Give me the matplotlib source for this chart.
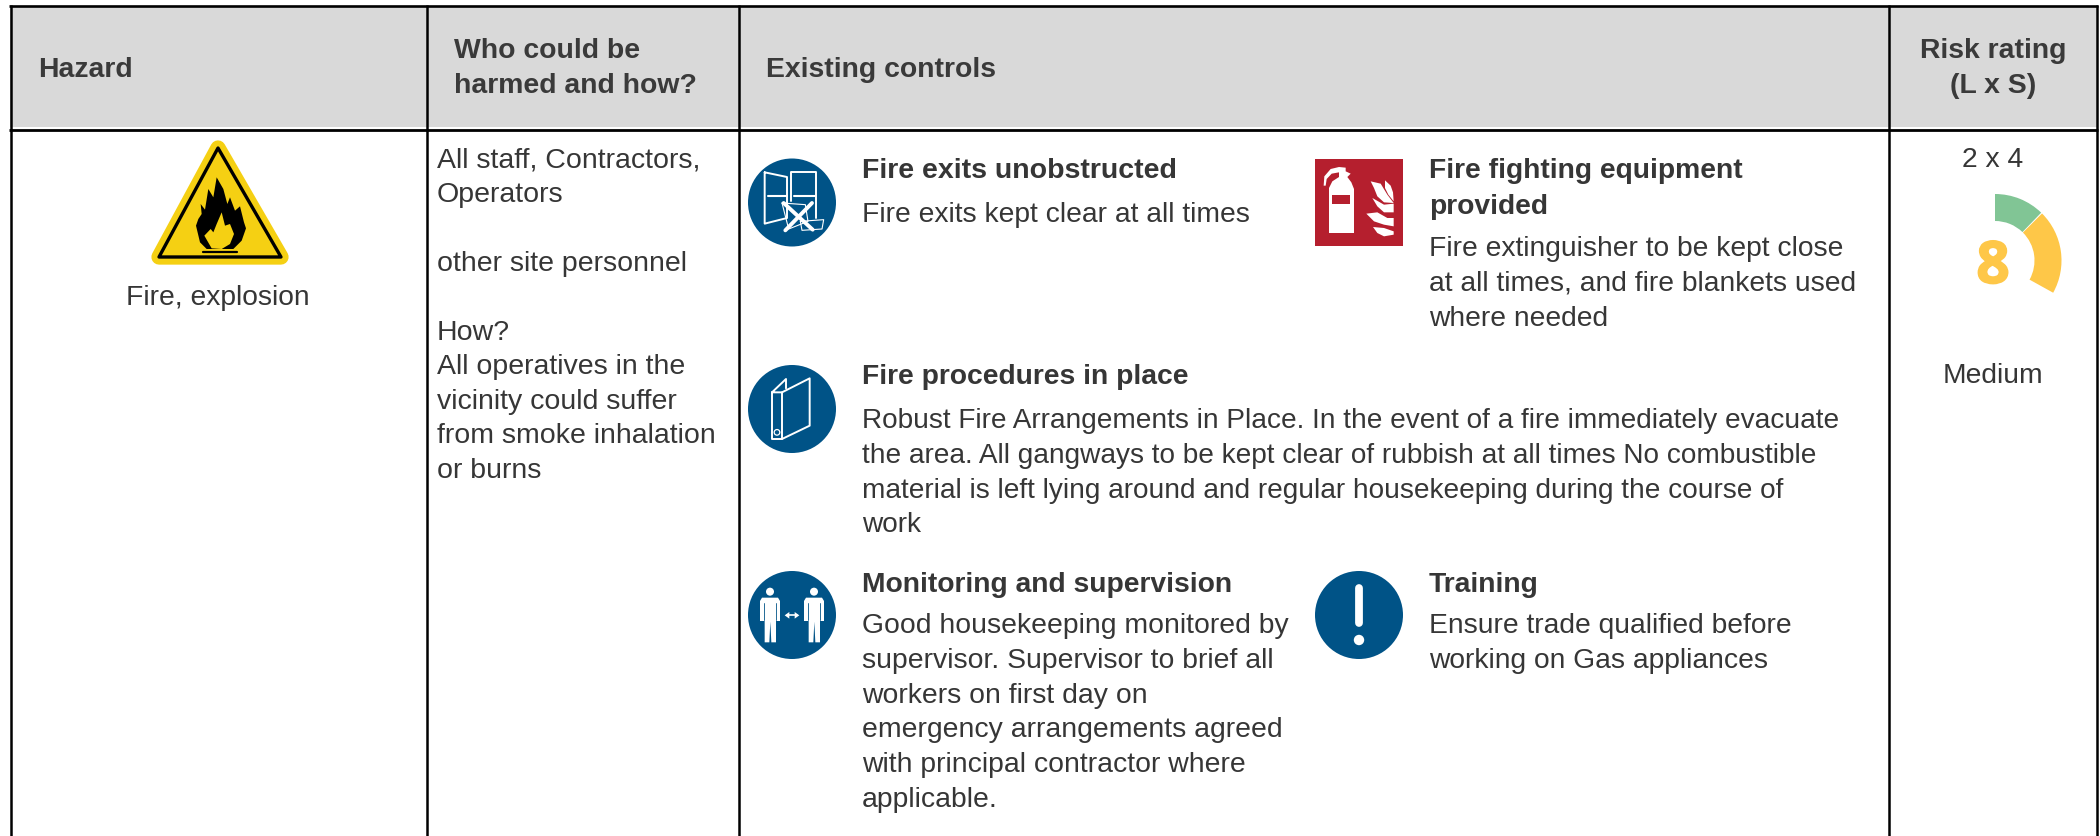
"""
Risk assessment table row: fire hazard, who is harmed, controls and rating.
"""

import matplotlib
matplotlib.use('Agg')
import matplotlib.pyplot as plt
import matplotlib.patheffects as pe
from matplotlib.patches import Circle, Polygon, Rectangle, Wedge

plt.rcParams['font.family'] = ['Liberation Sans', 'DejaVu Sans']

# table text
headers = ['Hazard', 'Who could be\nharmed and how?', 'Existing controls', 'Risk rating\n(L x S)']
hazard = 'Fire, explosion'
who_lines = ['All staff, Contractors,', 'Operators', '', 'other site personnel', '', 'How?',
             'All operatives in the', 'vicinity could suffer', 'from smoke inhalation', 'or burns']

exits_title = ['Fire exits unobstructed']
exits_body = ['Fire exits kept clear at all times']
equipment_title = ['Fire fighting equipment', 'provided']
equipment_body = ['Fire extinguisher to be kept close', 'at all times, and fire blankets used', 'where needed']
procedures_title = ['Fire procedures in place']
procedures_body = ['Robust Fire Arrangements in Place. In the event of a fire immediately evacuate',
                   'the area. All gangways to be kept clear of rubbish at all times No combustible',
                   'material is left lying around and regular housekeeping during the course of',
                   'work']
monitoring_title = ['Monitoring and supervision']
monitoring_body = ['Good housekeeping monitored by', 'supervisor. Supervisor to brief all', 'workers on first day on',
                   'emergency arrangements agreed', 'with principal contractor where', 'applicable.']
training_title = ['Training']
training_body = ['Ensure trade qualified before', 'working on Gas appliances']

# risk rating
likelihood = 2
severity = 4
rating_label = 'Medium'
gauge_spans = [45, 75]
gauge_colors = ['#81c595', '#fec748']

TEXT = '#363636'
BLUE = '#005387'
RED = '#b51f2e'
YELLOW = '#f5d013'
FS = 20.3
FS_HEAD = 20.4

fig = plt.figure(figsize=(21, 8.37), dpi=100)
ax = fig.add_axes([0, 0, 1, 1])
ax.set_xlim(0, 2100)
ax.set_ylim(837, 0)
ax.axis('off')


def lines(x, y, rows, step=34.8, **kw):
    # one text per row, y is the baseline
    kw.setdefault('fontsize', FS)
    kw.setdefault('color', TEXT)
    for i, row in enumerate(rows):
        if row:
            ax.text(x, y + i * step, row, va='baseline', **kw)


def zoomed(x0, y0, pts):
    return [(x0 + px / 3, y0 + py / 3) for px, py in pts]


def white_line(x0, y0, pts, lw=1.4, color='white'):
    xy = zoomed(x0, y0, pts)
    ax.plot([p[0] for p in xy], [p[1] for p in xy], color=color, lw=lw, solid_capstyle='round',
            solid_joinstyle='round', zorder=4)


def white_fill(x0, y0, pts, color='white'):
    ax.add_patch(Polygon(zoomed(x0, y0, pts), closed=True, fc=color, ec='none', zorder=4))


# table frame
ax.add_patch(Rectangle((10, 8), 2087, 120, fc='#d9d9d9', ec='none'))
for xv in [10.5, 427, 739, 1889, 2097]:
    ax.plot([xv, xv], [6, 837], color='black', lw=1.8, solid_capstyle='butt', zorder=2)
ax.plot([9, 2098], [7, 7], color='black', lw=1.9, solid_capstyle='butt', zorder=2)
ax.plot([9, 2098], [130.5, 130.5], color='black', lw=2.0, solid_capstyle='butt', zorder=2)

# header text
head = dict(fontsize=FS_HEAD, fontweight='bold', color='#3a3a3a')
lines(38, 77, [headers[0]], **head)
lines(454, 58, headers[1].split('\n'), **head)
lines(766, 77, [headers[2]], **head)
lines(1993, 58, headers[3].split('\n'), ha='center', **head)

# hazard column, warning triangle
tri = [(218, 149), (159, 258), (281, 258)]
ax.add_patch(Polygon(tri, closed=True, fc=YELLOW, ec=YELLOW, lw=11, joinstyle='round', zorder=3))
ax.add_patch(Polygon(tri, closed=True, fc=YELLOW, ec='black', lw=2.4, joinstyle='round', zorder=3))
flame = [(78, 170), (85, 150), (95, 135), (92, 105), (105, 122), (115, 60), (130, 85), (140, 25),
         (160, 60), (172, 105), (180, 85), (195, 125), (210, 112), (222, 160), (228, 178), (215, 215),
         (190, 240), (110, 240), (90, 220)]
white_fill(170, 170, flame, color='black')
white_fill(170, 170, [(103, 200), (122, 180), (130, 190), (140, 165), (155, 130), (165, 170), (180, 165),
                      (192, 195), (180, 225), (155, 240), (125, 238)], color=YELLOW)
white_line(170, 170, [(98, 249), (202, 249)], lw=1.6, color='black')
lines(218, 305, [hazard], ha='center')

# who column
lines(437, 167, who_lines, step=34.55, fontsize=20.5)

# fire exits icon
ax.add_patch(Circle((792, 203.5), 44, fc=BLUE, ec='none', zorder=3))
white_line(742, 154, [(68, 58), (135, 72), (135, 195), (68, 212), (68, 58)])
white_line(742, 154, [(148, 145), (148, 57), (222, 57), (222, 195)])
white_line(742, 154, [(78, 130), (135, 130)], lw=1.5)
white_line(742, 154, [(155, 130), (218, 130)], lw=1.5)
white_line(742, 154, [(120, 150), (190, 155), (198, 205), (140, 228), (120, 150)], lw=0.8)
white_line(742, 154, [(175, 205), (245, 200), (240, 228), (180, 232), (175, 205)], lw=0.8)
white_line(742, 154, [(125, 150), (212, 230)], lw=2.8)
white_line(742, 154, [(210, 150), (130, 232)], lw=2.8)
lines(862, 178, exits_title, fontweight='bold', fontsize=20.5)
lines(862, 222, exits_body)

# fire equipment icon
ax.add_patch(Rectangle((1315, 160), 88, 87, fc=RED, ec='none', zorder=3))
white_fill(1309, 154, [(60, 240), (60, 105), (70, 85), (90, 72), (90, 58), (68, 62), (53, 78), (50, 98),
                       (44, 98), (46, 70), (65, 48), (90, 42), (110, 44), (110, 55), (125, 62), (115, 72),
                       (127, 88), (135, 108), (135, 240)])
white_fill(1309, 154, [(68, 125), (122, 125), (122, 152), (68, 152)], color=RED)
white_fill(1309, 154, [(228, 82), (245, 98), (252, 118), (254, 145), (238, 125), (228, 105)])
white_fill(1309, 154, [(185, 85), (215, 92), (235, 125), (254, 150), (225, 148), (205, 130), (195, 105)])
white_fill(1309, 154, [(190, 135), (225, 155), (254, 152), (254, 178), (225, 178), (205, 160)])
white_fill(1309, 154, [(172, 182), (205, 178), (235, 195), (254, 195), (254, 220), (225, 215), (195, 205)])
white_fill(1309, 154, [(192, 222), (225, 225), (254, 235), (254, 245), (225, 250), (205, 240)])
lines(1429, 178, equipment_title, step=35.5, fontweight='bold', fontsize=20.3)
lines(1429, 256, equipment_body)

# fire procedures icon
ax.add_patch(Circle((792, 410), 44, fc=BLUE, ec='none', zorder=3))
white_line(742, 360, [(90, 100), (120, 100), (120, 240), (90, 240), (90, 100), (132, 60), (132, 88)])
white_line(742, 360, [(120, 100), (203, 58), (203, 200), (120, 240)])
ax.add_patch(Circle((742 + 105 / 3, 360 + 220 / 3), 2.8, fc='none', ec='white', lw=0.9, zorder=4))
lines(862, 384, procedures_title, fontweight='bold', fontsize=20.3)
lines(862, 428, procedures_body, fontsize=20.15)

# monitoring icon
ax.add_patch(Circle((792, 616), 44, fc=BLUE, ec='none', zorder=3))
for dx in [0, 132]:
    ax.add_patch(Circle((742 + (84 + dx) / 3, 566 + 80 / 3), 4, fc='white', ec='none', zorder=4))
    white_fill(742 + dx / 3, 566, [(60, 98), (108, 98), (114, 108), (114, 168), (102, 168), (102, 232), (88, 232),
                                   (85, 170), (82, 232), (68, 232), (68, 168), (54, 168), (54, 108)])
    white_line(742 + dx / 3, 566, [(66, 115), (66, 165)], lw=0.6, color=BLUE)
    white_line(742 + dx / 3, 566, [(102, 115), (102, 165)], lw=0.6, color=BLUE)
white_line(742, 566, [(135, 151), (165, 151)], lw=1.2)
white_fill(742, 566, [(128, 151), (142, 141), (142, 161)])
white_fill(742, 566, [(172, 151), (158, 141), (158, 161)])
lines(862, 592, monitoring_title, fontweight='bold', fontsize=20.3)
lines(862, 633, monitoring_body, fontsize=20.4)

# training icon
ax.add_patch(Circle((1359, 616), 44, fc=BLUE, ec='none', zorder=3))
white_line(1309, 566, [(150, 70), (150, 175)], lw=5.6)
ax.add_patch(Circle((1309 + 150 / 3, 566 + 225 / 3), 5.2, fc='white', ec='none', zorder=4))
lines(1429, 592, training_title, fontweight='bold', fontsize=20.3)
lines(1429, 633, training_body)

# risk rating column
lines(1993, 167, [f'{likelihood} x {severity}'], ha='center')
start = 90
for span, col in zip(gauge_spans, gauge_colors):
    ax.add_patch(Wedge((1995, 261.5), 66.5, -start, -start + span - 1, width=27, fc=col, ec='none', zorder=3))
    start -= span
score = ax.text(1993, 262, str(likelihood * severity), ha='center', va='center_baseline', fontsize=42,
                fontweight='bold', color=gauge_colors[1], family='Open Sans')
score.set_path_effects([pe.withStroke(linewidth=1.2, foreground=gauge_colors[1])])
lines(1993, 383, [rating_label], ha='center')

plt.savefig('out.png', dpi=100)
